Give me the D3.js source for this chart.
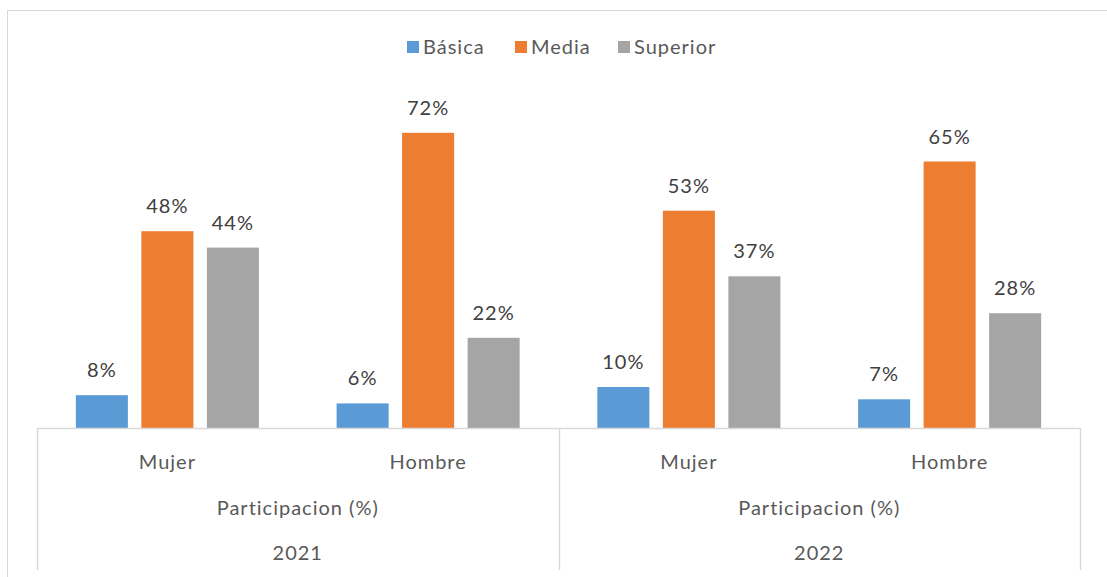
<!DOCTYPE html>
<html>
<head>
<meta charset="utf-8">
<script src="https://cdn.jsdelivr.net/npm/d3@7"></script>
<style>
  html, body { margin: 0; padding: 0; background: #fff; }
  svg { display: block; font-family: Lato, "Open Sans", sans-serif; }
</style>
</head>
<body>
<svg id="chart" width="1107" height="577"></svg>
<script>
// chart data
const years = ["2021", "2022"];
const genders = ["Mujer", "Hombre"];
const groupLabel = "Participacion (%)";
const seriesNames = ["Básica", "Media", "Superior"];
const seriesColors = ["#5b9bd5", "#ed7d31", "#a5a5a5"];
// values per category (2021 Mujer, 2021 Hombre, 2022 Mujer, 2022 Hombre)
const basica = [8, 6, 10, 7];
const media = [48, 72, 53, 65];
const superior = [44, 22, 37, 28];

const W = 1107, H = 577;
const svg = d3.select("#chart");

// chart frame
svg.append("rect")
    .attr("x", 7.5).attr("y", 10.5)
    .attr("width", 1120).attr("height", 590)
    .attr("fill", "none").attr("stroke", "#d9d9d9");

const plotL = 37, plotR = 1080, baseY = 428;

const cats = [];
years.forEach(y => genders.forEach(g => cats.push(y + "|" + g)));

const x0 = d3.scaleBand().domain(cats).range([plotL, plotR]).paddingInner(0).paddingOuter(0);
const x1 = d3.scaleBand().domain(seriesNames).range([0, x0.bandwidth()]).paddingInner(0.206).paddingOuter(0.593);
const y = d3.scaleLinear().domain([0, 80]).range([baseY, baseY - 328]);

const allSeries = [basica, media, superior];
const bars = [];
cats.forEach((c, i) => {
    seriesNames.forEach((s, j) => bars.push({ cat: c, series: s, color: seriesColors[j], v: allSeries[j][i] }));
});

const labelFont = { size: "20px", spacing: "1px" };

const barG = svg.append("g");
barG.selectAll("rect")
    .data(bars)
    .enter().append("rect")
    .attr("x", d => x0(d.cat) + x1(d.series))
    .attr("width", x1.bandwidth())
    .attr("y", d => y(d.v))
    .attr("height", d => baseY - y(d.v))
    .attr("fill", d => d.color);

barG.selectAll("text")
    .data(bars)
    .enter().append("text")
    .attr("x", d => x0(d.cat) + x1(d.series) + x1.bandwidth() / 2)
    .attr("y", d => y(d.v) - 18)
    .attr("text-anchor", "middle")
    .attr("fill", "#404040")
    .style("font-size", labelFont.size)
    .style("letter-spacing", labelFont.spacing)
    .text(d => d.v + "%");

// multi-level category axis
const axisG = svg.append("g");
const lineCol = "#d9d9d9";
axisG.append("line")
    .attr("x1", plotL).attr("x2", plotR)
    .attr("y1", baseY + 0.5).attr("y2", baseY + 0.5)
    .attr("stroke", lineCol).attr("stroke-width", 1.5);

const groupW = x0.bandwidth() * genders.length;
const edges = d3.range(years.length + 1).map(i => plotL + i * groupW);
axisG.selectAll("line.sep")
    .data(edges)
    .enter().append("line")
    .attr("class", "sep")
    .attr("x1", d => Math.round(d) + 0.5).attr("x2", d => Math.round(d) + 0.5)
    .attr("y1", baseY).attr("y2", 570)
    .attr("stroke", lineCol).attr("stroke-width", 1.5);

axisG.selectAll("text.cat")
    .data(cats)
    .enter().append("text")
    .attr("class", "cat")
    .attr("x", d => x0(d) + x0.bandwidth() / 2)
    .attr("y", 469)
    .attr("text-anchor", "middle")
    .attr("fill", "#595959")
    .style("font-size", labelFont.size)
    .style("letter-spacing", labelFont.spacing)
    .text(d => d.split("|")[1]);

years.forEach((yr, i) => {
    const cx = edges[i] + groupW / 2;
    axisG.append("text")
        .attr("x", cx).attr("y", 515)
        .attr("text-anchor", "middle")
        .attr("fill", "#595959")
        .style("font-size", labelFont.size)
        .style("letter-spacing", labelFont.spacing)
        .text(groupLabel);
    axisG.append("text")
        .attr("x", cx).attr("y", 560)
        .attr("text-anchor", "middle")
        .attr("fill", "#595959")
        .style("font-size", labelFont.size)
        .style("letter-spacing", labelFont.spacing)
        .text(yr);
});

// legend
const legend = svg.append("g").attr("transform", "translate(407, 47)");
const legendX = [0, 108, 211];
seriesNames.forEach((s, i) => {
    const lg = legend.append("g").attr("transform", `translate(${legendX[i]}, 0)`);
    lg.append("rect").attr("x", 0).attr("y", -6).attr("width", 12).attr("height", 12).attr("fill", seriesColors[i]);
    lg.append("text").attr("x", 16).attr("y", 7)
        .attr("fill", "#595959")
        .style("font-size", labelFont.size)
        .style("letter-spacing", labelFont.spacing)
        .text(s);
});
</script>
</body>
</html>
